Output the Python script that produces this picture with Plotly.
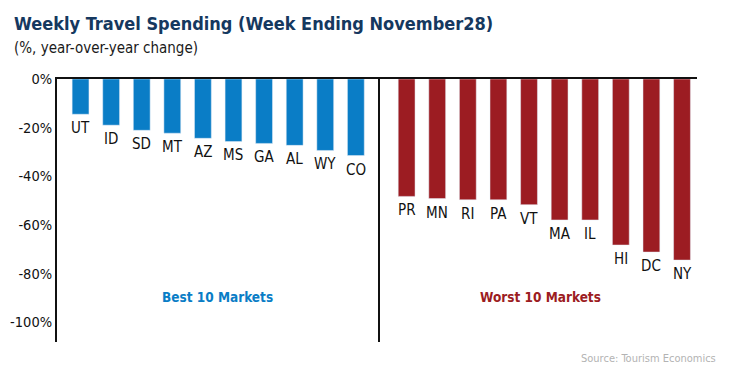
import plotly.graph_objects as go
from plotly.subplots import make_subplots

best_states = ["UT", "ID", "SD", "MT", "AZ", "MS", "GA", "AL", "WY", "CO"]
best_values = [-14.5, -19.0, -21.1, -22.3, -24.4, -25.7, -26.5, -27.3, -29.4, -31.5]
worst_states = ["PR", "MN", "RI", "PA", "VT", "MA", "IL", "HI", "DC", "NY"]
worst_values = [-48.3, -49.2, -49.7, -49.7, -51.7, -58.0, -58.0, -68.3, -71.2, -74.5]
y_ticks = [0, -20, -40, -60, -80, -100]
y_tick_labels = ["0%", "-20%", "-40%", "-60%", "-80%", "-100%"]

BLUE = "#0A7DC6"
RED = "#9C1C22"
NAVY = "#15385F"
FONT = "DejaVu Sans Condensed, Roboto Condensed, Roboto, sans-serif"

fig = make_subplots(rows=1, cols=2, shared_yaxes=False, horizontal_spacing=0,
                    column_widths=[0.5047, 0.4953])

fig.add_trace(go.Bar(x=best_states, y=best_values, marker_color=BLUE, width=0.55,
                     showlegend=False, hoverinfo="x+y"), row=1, col=1)
fig.add_trace(go.Bar(x=worst_states, y=worst_values, marker_color=RED, width=0.55,
                     showlegend=False, hoverinfo="x+y"), row=1, col=2)

annotations = []
for xr, states, vals in (("x", best_states, best_values), ("x2", worst_states, worst_values)):
    for s, v in zip(states, vals):
        annotations.append(dict(x=s, y=v, xref=xr, yref="y", text=s, showarrow=False,
                                xanchor="center", yanchor="top", yshift=-3,
                                font=dict(family=FONT, size=15, color="#111111")))

annotations += [
    dict(x=-0.0703, y=1.211, xref="paper", yref="paper",
         text="<b>Weekly Travel Spending (Week Ending November28)</b>",
         showarrow=False, xanchor="left", yanchor="middle",
         font=dict(family=FONT, size=18, color=NAVY)),
    dict(x=0.2508, y=-89.5, xref="paper", yref="y", text="<b>Best 10 Markets</b>",
         showarrow=False, xanchor="center", yanchor="middle",
         font=dict(family=FONT, size=13.5, color=BLUE)),
    dict(x=0.7547, y=-89.5, xref="paper", yref="y", text="<b>Worst 10 Markets</b>",
         showarrow=False, xanchor="center", yanchor="middle",
         font=dict(family=FONT, size=13.5, color=RED)),
    dict(x=-0.0703, y=1.118, xref="paper", yref="paper", text="(%, year-over-year change)",
         showarrow=False, xanchor="left", yanchor="middle",
         font=dict(family=FONT, size=15, color="#1a1a1a")),
    dict(x=1.0328, y=-0.0646, xref="paper", yref="paper", text="Source: Tourism Economics",
         showarrow=False, xanchor="right", yanchor="middle",
         font=dict(family=FONT, size=11, color="#b3b3b3")),
]

fig.update_layout(
    width=733, height=376,
    margin=dict(l=57, r=36, t=79, b=34, autoexpand=False),
    paper_bgcolor="white", plot_bgcolor="white",
    annotations=annotations,
)

fig.update_xaxes(side="top", showline=True, linecolor="#111111", linewidth=2,
                 showticklabels=False, ticks="", showgrid=False, zeroline=False,
                 automargin=False)
fig.update_xaxes(range=[-0.77, 9.79], row=1, col=1)
fig.update_xaxes(range=[-0.87, 9.49], row=1, col=2)

fig.update_yaxes(range=[-108.2, 0], showline=True, linecolor="#111111", linewidth=2,
                 showgrid=False, zeroline=False, ticks="", automargin=False)
fig.update_yaxes(tickvals=y_ticks, ticktext=y_tick_labels, ticklabelstandoff=0,
                 tickfont=dict(family=FONT, size=14.5, color="#111111"), row=1, col=1)
fig.update_yaxes(showticklabels=False, matches="y", row=1, col=2)

fig.write_html("out.html", config={"displayModeBar": False},
               post_script="document.body.style.margin='0';document.body.style.overflow='hidden';")
